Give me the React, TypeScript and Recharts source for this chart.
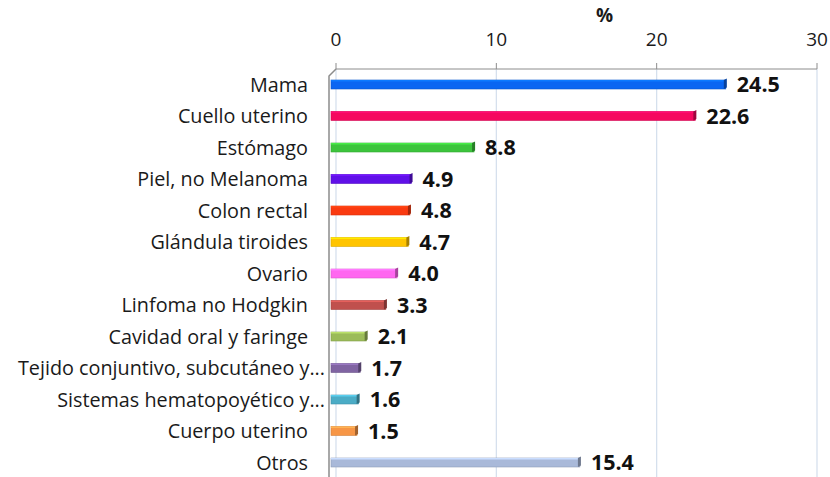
import { BarChart, Bar, XAxis, YAxis, CartesianGrid, LabelList, usePlotArea } from 'recharts';

const categories = [
  'Mama',
  'Cuello uterino',
  'Estómago',
  'Piel, no Melanoma',
  'Colon rectal',
  'Glándula tiroides',
  'Ovario',
  'Linfoma no Hodgkin',
  'Cavidad oral y faringe',
  'Tejido conjuntivo, subcutáneo y...',
  'Sistemas hematopoyético y...',
  'Cuerpo uterino',
  'Otros',
];

const values = [24.5, 22.6, 8.8, 4.9, 4.8, 4.7, 4.0, 3.3, 2.1, 1.7, 1.6, 1.5, 15.4];

const colors = [
  '#0a66f2',
  '#f5085f',
  '#3cc43c',
  '#6010e8',
  '#fa3a10',
  '#ffc400',
  '#ff66f0',
  '#c0504d',
  '#9bbb59',
  '#8064a2',
  '#4bacc6',
  '#f79646',
  '#a9b9d9',
];

const xTicks = [0, 10, 20, 30];

const data = categories.map((name, i) => ({ name, value: values[i], color: colors[i] }));

const FONT = '"Open Sans", sans-serif';

function shade(hex: string, f: number) {
  const n = parseInt(hex.slice(1), 16);
  const r = Math.round(((n >> 16) & 255) * f);
  const g = Math.round(((n >> 8) & 255) * f);
  const b = Math.round((n & 255) * f);
  return `rgb(${Math.min(r, 255)},${Math.min(g, 255)},${Math.min(b, 255)})`;
}

// barra con un poco de efecto 3D (cara frontal + lateral oscura)
const Bar3D = (props: any) => {
  const { x, y, width, height, payload } = props;
  const c = payload.color;
  const fx = x - 5;
  const fw = Math.max(width + 2, 2);
  return (
    <g>
      <rect x={fx} y={y} width={fw} height={height} fill={c} stroke={shade(c, 0.85)} strokeWidth={0.6} />
      <rect x={fx} y={y} width={fw} height={1.5} fill={shade(c, 1.2)} />
      <path
        d={`M${fx + fw - 2} ${y} L${fx + fw + 1} ${y - 1.5} L${fx + fw + 1} ${y + height - 1.5} L${fx + fw - 2} ${y + height} Z`}
        fill={shade(c, 0.65)}
      />
    </g>
  );
};

const CategoryTick = (props: any) => {
  const { x, y, payload } = props;
  const trunc = payload.value.endsWith('...');
  return (
    <text
      x={trunc ? x - 3 : x - 20}
      y={y}
      dy={7}
      textAnchor="end"
      fontFamily={FONT}
      fontSize={19.8}
      fill="#1a1a1a"
    >
      {payload.value}
    </text>
  );
};

function Wall() {
  const area = usePlotArea();
  if (!area) return null;
  const { x, y, height } = area;
  return (
    <path
      d={`M${x} ${y} L${x - 7} ${y + 7} L${x - 7} ${y + height}`}
      stroke="#8c8c8c"
      strokeWidth={1.5}
      fill="none"
    />
  );
}

export default function App() {
  return (
    <div style={{ position: 'absolute', left: 0, top: 0, width: 830, height: 477, overflow: 'hidden', background: '#fff' }}>
      <BarChart
        width={830}
        height={490}
        data={data}
        layout="vertical"
        margin={{ top: 29, right: 13, left: 0, bottom: 11.5 }}
        barSize={9}
      >
        <CartesianGrid horizontal={false} stroke="#d3deec" strokeWidth={1.2} />
        <XAxis
          type="number"
          orientation="top"
          domain={[0, 30]}
          ticks={xTicks}
          height={40}
          tickSize={6}
          tickMargin={17}
          stroke="#8c8c8c"
          tick={{ fontFamily: FONT, fontSize: 19, fill: '#1a1a1a' }}
          label={{
            value: '%',
            position: 'top',
            dx: 28,
            offset: 7,
            style: { fontFamily: FONT, fontSize: 19, fontWeight: 'bold', fill: '#1a1a1a' },
          }}
        />
        <YAxis
          type="category"
          dataKey="name"
          width={336}
          axisLine={false}
          tickLine={false}
          interval={0}
          tick={<CategoryTick />}
        />
        <Wall />
        <Bar dataKey="value" shape={<Bar3D />} isAnimationActive={false}>
          <LabelList
            dataKey="value"
            position="right"
            offset={8}
            formatter={(v: any) => Number(v).toFixed(1)}
            style={{ fontFamily: FONT, fontSize: 21.5, fontWeight: 'bold', fill: '#111' }}
          />
        </Bar>
      </BarChart>
    </div>
  );
}
